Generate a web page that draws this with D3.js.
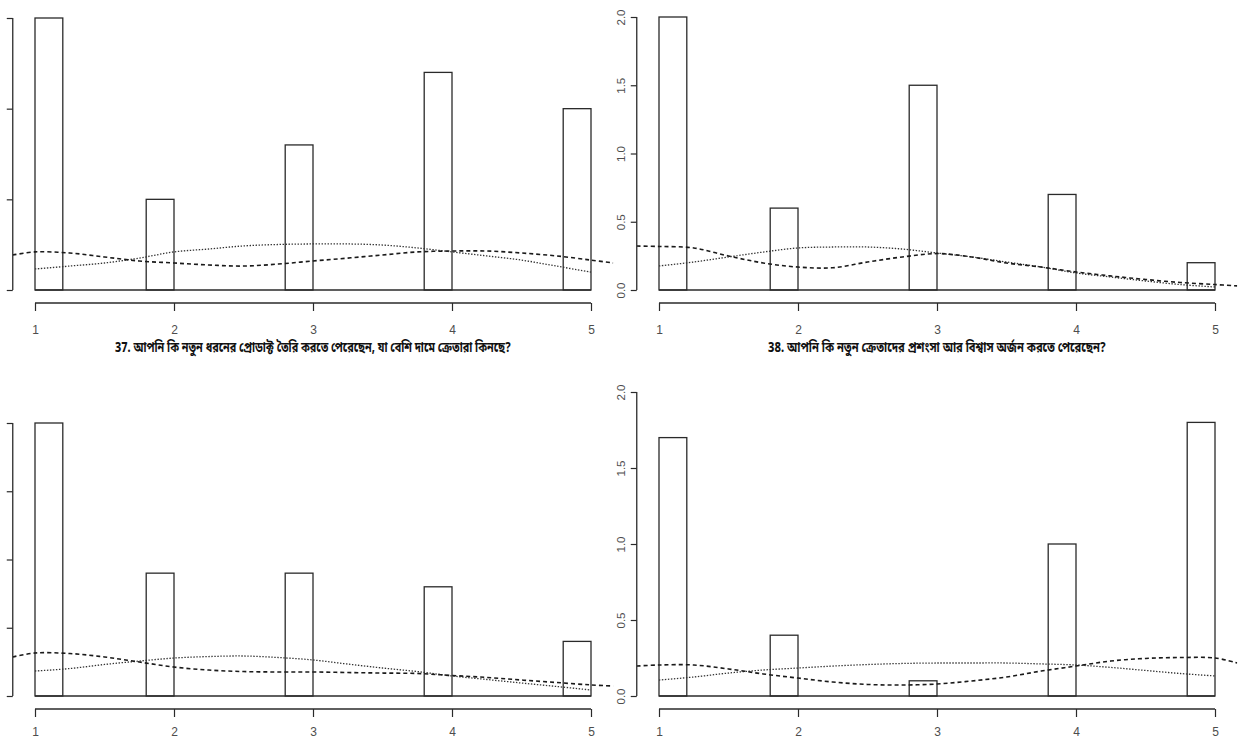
<!DOCTYPE html>
<html>
<head>
<meta charset="utf-8">
<script src="https://cdn.jsdelivr.net/npm/d3@7"></script>
<style>
  html, body { margin: 0; padding: 0; background: #fff; }
  svg { display: block; }
</style>
</head>
<body>
<script>
// Response codes on the x axis (Likert 1-5)
const categories = [1, 2, 3, 4, 5];
const xTicks = [1, 2, 3, 4, 5];
// Histogram bins (bin width 0.2)
const binStart = [1.0, 1.8, 2.8, 3.8, 4.8];
const binEnd = [1.2, 2.0, 3.0, 4.0, 5.0];

// Histogram densities per question
const densQ37 = [1.5, 0.5, 0.8, 1.2, 1.0];
const densQ38 = [2.0, 0.6, 1.5, 0.7, 0.2];
const densQ39 = [2.0, 0.9, 0.9, 0.8, 0.4];
const densQ40 = [1.7, 0.4, 0.1, 1.0, 1.8];

// Grid for the smoothed curves
const dashedX = [0.84, 1.0, 1.25, 1.5, 1.75, 2.0, 2.25, 2.5, 2.75, 3.0, 3.25, 3.5, 3.75, 4.0, 4.25, 4.5, 4.75, 5.0, 5.16];
const dottedX = [1.0, 1.25, 1.5, 1.75, 2.0, 2.25, 2.5, 2.75, 3.0, 3.25, 3.5, 3.75, 4.0, 4.25, 4.5, 4.75, 5.0];

// Kernel density (dashed) and reference density (dotted) per question
const kdeQ37 = [0.193, 0.210, 0.204, 0.182, 0.160, 0.149, 0.138, 0.132, 0.143, 0.160, 0.176, 0.193, 0.210, 0.215, 0.215, 0.204, 0.188, 0.165, 0.149];
const refQ37 = [0.116, 0.132, 0.149, 0.176, 0.210, 0.226, 0.243, 0.251, 0.254, 0.254, 0.248, 0.232, 0.210, 0.188, 0.165, 0.132, 0.099];
const kdeQ38 = [0.322, 0.319, 0.308, 0.249, 0.198, 0.168, 0.163, 0.205, 0.242, 0.267, 0.242, 0.198, 0.168, 0.132, 0.103, 0.077, 0.055, 0.040, 0.030];
const refQ38 = [0.176, 0.205, 0.242, 0.278, 0.308, 0.315, 0.315, 0.300, 0.271, 0.242, 0.205, 0.168, 0.125, 0.095, 0.066, 0.040, 0.022];
const kdeQ39 = [0.286, 0.315, 0.311, 0.286, 0.249, 0.212, 0.190, 0.179, 0.176, 0.176, 0.172, 0.168, 0.165, 0.150, 0.136, 0.117, 0.099, 0.081, 0.073];
const refQ39 = [0.183, 0.201, 0.231, 0.256, 0.278, 0.289, 0.293, 0.282, 0.264, 0.234, 0.205, 0.179, 0.147, 0.121, 0.095, 0.070, 0.044];
const kdeQ40 = [0.197, 0.204, 0.204, 0.178, 0.145, 0.118, 0.092, 0.076, 0.072, 0.079, 0.099, 0.125, 0.164, 0.197, 0.230, 0.247, 0.253, 0.250, 0.217];
const refQ40 = [0.105, 0.125, 0.151, 0.171, 0.184, 0.197, 0.207, 0.214, 0.217, 0.217, 0.217, 0.211, 0.204, 0.188, 0.168, 0.148, 0.132];

// Y tick sets
const yTicksShort = [0, 0.5, 1.0, 1.5];
const yTicksLong = [0, 0.5, 1.0, 1.5, 2.0];

// Panel titles
const titleQ37 = "37. আপনি কি নতুন ধরনের প্রোডাক্ট তৈরি করতে পেরেছেন, যা বেশি দামে ক্রেতারা কিনছে?";
const titleQ38 = "38. আপনি কি নতুন ক্রেতাদের প্রশংসা  আর বিশ্বাস অর্জন করতে পেরেছেন?";

const W = 1240, H = 740;
const svg = d3.select("body").append("svg").attr("width", W).attr("height", H);

// left-column panels sit flush with the page edge, so their y labels fall outside it
const panels = [
  { id: "q37", dens: densQ37, kde: kdeQ37, ref: refQ37, yTicks: yTicksShort, yMax: 1.5,
    xr: [35, 591], yr: [290, 18], title: titleQ37, titleLen: 396, yLabels: false, xPad: 14 },
  { id: "q38", dens: densQ38, kde: kdeQ38, ref: refQ38, yTicks: yTicksLong, yMax: 2.0,
    xr: [659, 1215], yr: [290, 17], title: titleQ38, titleLen: 338, yLabels: true, xPad: 14 },
  { id: "q39", dens: densQ39, kde: kdeQ39, ref: refQ39, yTicks: yTicksLong, yMax: 2.0,
    xr: [35, 591], yr: [696, 423], title: null, yLabels: false, xPad: 10 },
  { id: "q40", dens: densQ40, kde: kdeQ40, ref: refQ40, yTicks: yTicksLong, yMax: 2.0,
    xr: [659, 1215], yr: [696, 392], title: null, yLabels: true, xPad: 10 }
];

const ink = "#2a2a2a";
const labelInk = "#4d4d4d";

panels.forEach(p => {
  const x = d3.scaleLinear().domain([1, 5]).range(p.xr);
  const y = d3.scaleLinear().domain([0, p.yMax]).range(p.yr);
  const g = svg.append("g").attr("class", "panel-" + p.id);

  // plot region: data range padded by 4% on each side
  const left = x(0.84), right = x(5.16);
  const clipId = "clip-" + p.id;
  svg.append("defs").append("clipPath").attr("id", clipId)
    .append("rect").attr("x", left).attr("y", 0)
    .attr("width", right - left).attr("height", p.yr[0] + 2);

  // bars
  g.selectAll("rect.bar").data(categories).join("rect")
    .attr("class", "bar")
    .attr("x", (d, i) => x(binStart[i]))
    .attr("width", (d, i) => x(binEnd[i]) - x(binStart[i]))
    .attr("y", (d, i) => y(p.dens[i]))
    .attr("height", (d, i) => y(0) - y(p.dens[i]))
    .attr("fill", "#fff")
    .attr("stroke", ink)
    .attr("stroke-width", 1.3);

  // empty bins collapse onto the baseline
  g.append("line")
    .attr("x1", x(1)).attr("x2", x(5))
    .attr("y1", y(0)).attr("y2", y(0))
    .attr("stroke", ink).attr("stroke-width", 1.3);

  // curves
  const curves = g.append("g").attr("clip-path", `url(#${clipId})`);
  const lineKde = d3.line().x((d, i) => x(dashedX[i])).y(d => y(d)).curve(d3.curveCatmullRom);
  const lineRef = d3.line().x((d, i) => x(dottedX[i])).y(d => y(d)).curve(d3.curveCatmullRom);
  curves.append("path").attr("d", lineRef(p.ref))
    .attr("fill", "none").attr("stroke", "#333").attr("stroke-width", 1.3)
    .attr("stroke-dasharray", "1.4,1.6");
  curves.append("path").attr("d", lineKde(p.kde))
    .attr("fill", "none").attr("stroke", "#1a1a1a").attr("stroke-width", 1.6)
    .attr("stroke-dasharray", "4,3");

  // y axis on the left edge of the plot region
  const yAxis = d3.axisLeft(y).tickValues(p.yTicks).tickSize(6).tickPadding(10)
    .tickFormat(p.yLabels ? d3.format(".1f") : () => "");
  const ya = g.append("g").attr("transform", `translate(${left},0)`).call(yAxis);
  ya.select(".domain").attr("d", `M0,${y(0)}V${y(p.yMax)}`).attr("stroke", ink).attr("stroke-width", 1.3);
  ya.selectAll(".tick line").attr("stroke", ink).attr("stroke-width", 1.2);
  ya.selectAll(".tick text")
    .attr("font-family", "Liberation Sans, Arial, sans-serif")
    .attr("font-size", 11.5).attr("fill", labelInk)
    .attr("text-anchor", "middle")
    .attr("x", 0).attr("dy", 0)
    .attr("transform", "translate(-16,0) rotate(-90)")
    .attr("dominant-baseline", "central");

  // x axis below the bars
  const xAxis = d3.axisBottom(x).tickValues(xTicks).tickSize(8).tickPadding(p.xPad)
    .tickFormat(d3.format("d"));
  const xa = g.append("g").attr("transform", `translate(0,${y(0) + 13})`).call(xAxis);
  xa.select(".domain").attr("d", `M${x(1)},0H${x(5)}`).attr("stroke", ink).attr("stroke-width", 1.3);
  xa.selectAll(".tick line").attr("stroke", ink).attr("stroke-width", 1.2);
  xa.selectAll(".tick text")
    .attr("font-family", "Liberation Sans, Arial, sans-serif")
    .attr("font-size", 12).attr("fill", labelInk);

  if (p.title) {
    g.append("text")
      .attr("x", (p.xr[0] + p.xr[1]) / 2)
      .attr("y", y(0) + 62)
      .attr("text-anchor", "middle")
      .attr("font-family", "'Noto Sans Bengali', 'Lohit Bengali', 'Noto Sans', sans-serif")
      .attr("font-weight", "bold")
      .attr("font-size", 14)
      .attr("fill", "#111")
      .attr("textLength", p.titleLen)
      .attr("lengthAdjust", "spacingAndGlyphs")
      .text(p.title);
  }
});
</script>
</body>
</html>
